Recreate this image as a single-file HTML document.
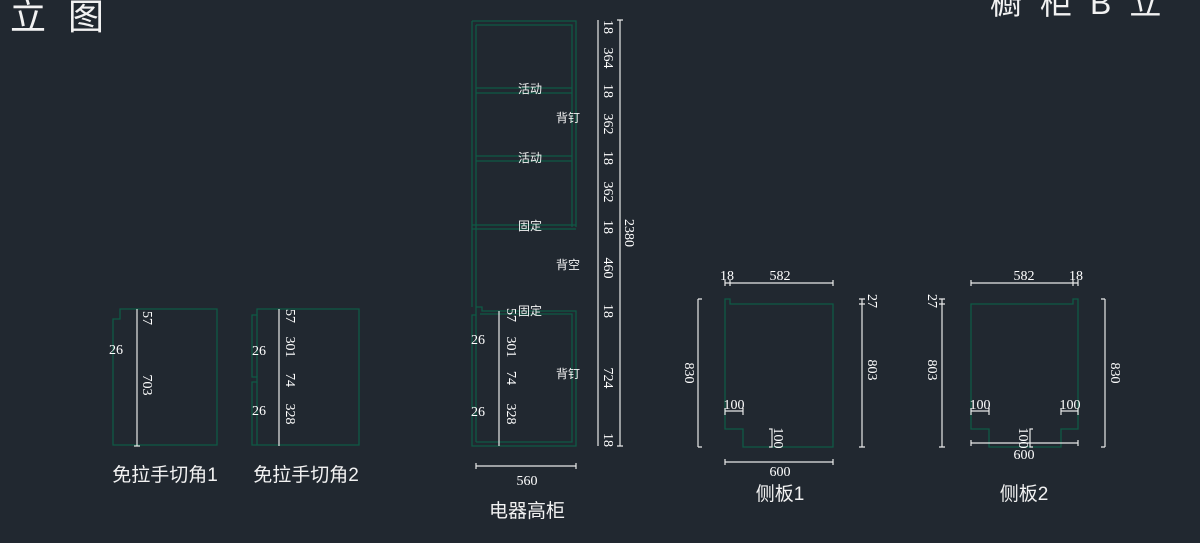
<!DOCTYPE html>
<html><head><meta charset="utf-8"><style>
html,body{margin:0;padding:0;background:#212830;width:1200px;height:543px;overflow:hidden}
svg{display:block}
text{font-family:"Liberation Sans","Noto Sans CJK SC",sans-serif;fill:#f2f2f2}
.d{font-family:"Liberation Serif","Noto Sans CJK SC",serif;font-size:14px;fill:#fff}
.c{font-size:12px}
.g{stroke:#0f5a45;stroke-width:1.3;fill:none}
.w{stroke:#e8e8e8;stroke-width:1.2;fill:none}
</style></head><body>
<svg width="1200" height="543" viewBox="0 0 1200 543" xmlns="http://www.w3.org/2000/svg">
<text x="10" y="29" font-size="36" letter-spacing="22">立图</text>
<text x="990" y="14" font-size="32" letter-spacing="18">橱柜B立</text>

<!-- panel 1 -->
<path class="g" d="M120 309 H217 V445 H113 V319 H120 Z"/>
<line class="w" x1="137" y1="309" x2="137" y2="446"/>
<line class="w" x1="134" y1="446" x2="140" y2="446"/>
<text class="d" transform="translate(143,318) rotate(90)" text-anchor="middle">57</text>
<text class="d" transform="translate(143,385) rotate(90)" text-anchor="middle">703</text>
<text class="d" x="116" y="354" text-anchor="middle">26</text>
<text x="165" y="481" font-size="19" text-anchor="middle">免拉手切角1</text>

<!-- panel 2 -->
<path class="g" d="M262 309 H359 V445 H252 V382 H257 V377 H252 V315 H257 V309 Z"/>
<path class="g" d="M257 315 V377 M257 382 V445"/>
<line class="w" x1="279" y1="309" x2="279" y2="446"/>
<text class="d" transform="translate(286,316) rotate(90)" text-anchor="middle">57</text>
<text class="d" transform="translate(286,347) rotate(90)" text-anchor="middle">301</text>
<text class="d" transform="translate(286,380) rotate(90)" text-anchor="middle">74</text>
<text class="d" transform="translate(286,414) rotate(90)" text-anchor="middle">328</text>
<text class="d" x="259" y="355" text-anchor="middle">26</text>
<text class="d" x="259" y="415" text-anchor="middle">26</text>
<text x="306" y="481" font-size="19" text-anchor="middle">免拉手切角2</text>

<!-- tall cabinet -->
<path class="g" d="M472 21 H576 V227 M476 25 H572 V227 M472 21 V307 M476 25 V307"/>
<path class="g" d="M476 88 H572 M476 93 H572 M476 156 H572 M476 161 H572 M472 225 H576 M472 229 H576"/>
<path class="g" d="M476 307 H482 V311 H576 V446 H472 V415 H476 V407 H472 V315 H476 V307"/>
<path class="g" d="M480 314 H572 V442 H476 M476 315 V406 M476 415 V442"/>
<line class="w" x1="499" y1="311" x2="499" y2="446"/>
<text class="d" transform="translate(507,315) rotate(90)" text-anchor="middle">57</text>
<text class="d" transform="translate(507,347) rotate(90)" text-anchor="middle">301</text>
<text class="d" transform="translate(507,378) rotate(90)" text-anchor="middle">74</text>
<text class="d" transform="translate(507,414) rotate(90)" text-anchor="middle">328</text>
<text class="d" x="478" y="344" text-anchor="middle">26</text>
<text class="d" x="478" y="416" text-anchor="middle">26</text>
<text class="c" x="530" y="93" text-anchor="middle">活动</text>
<text class="c" x="568" y="122" text-anchor="middle">背钉</text>
<text class="c" x="530" y="162" text-anchor="middle">活动</text>
<text class="c" x="530" y="230" text-anchor="middle">固定</text>
<text class="c" x="568" y="269" text-anchor="middle">背空</text>
<text class="c" x="530" y="315" text-anchor="middle">固定</text>
<text class="c" x="568" y="378" text-anchor="middle">背钉</text>
<line class="w" x1="598" y1="20" x2="598" y2="446"/>
<line class="w" x1="620" y1="20" x2="620" y2="446"/>
<path class="w" d="M617 20 H623 M617 446 H623"/>
<g>
<text class="d" transform="translate(604,27) rotate(90)" text-anchor="middle">18</text>
<text class="d" transform="translate(604,58) rotate(90)" text-anchor="middle">364</text>
<text class="d" transform="translate(604,91) rotate(90)" text-anchor="middle">18</text>
<text class="d" transform="translate(604,124) rotate(90)" text-anchor="middle">362</text>
<text class="d" transform="translate(604,158) rotate(90)" text-anchor="middle">18</text>
<text class="d" transform="translate(604,192) rotate(90)" text-anchor="middle">362</text>
<text class="d" transform="translate(604,227) rotate(90)" text-anchor="middle">18</text>
<text class="d" transform="translate(604,268) rotate(90)" text-anchor="middle">460</text>
<text class="d" transform="translate(604,311) rotate(90)" text-anchor="middle">18</text>
<text class="d" transform="translate(604,378) rotate(90)" text-anchor="middle">724</text>
<text class="d" transform="translate(604,440) rotate(90)" text-anchor="middle">18</text>
<text class="d" transform="translate(625,233) rotate(90)" text-anchor="middle" font-size="16">2380</text>
</g>
<line class="w" x1="476" y1="466" x2="576" y2="466"/>
<path class="w" d="M476 463 V469 M576 463 V469"/>
<text class="d" x="527" y="485" text-anchor="middle" font-size="16">560</text>
<text x="527" y="517" font-size="19" text-anchor="middle">电器高柜</text>

<!-- side panel 1 -->
<path class="g" d="M725 299 H730 V304 H833 V447 H743 V429 H725 Z"/>
<line class="w" x1="725" y1="283" x2="833" y2="283"/>
<path class="w" d="M725 280 V286 M730 280 V286 M833 280 V286"/>
<text class="d" x="727" y="280" text-anchor="middle">18</text>
<text class="d" x="780" y="280" text-anchor="middle">582</text>
<line class="w" x1="698" y1="299" x2="698" y2="447"/>
<path class="w" d="M698 299 H702 M698 447 H702"/>
<text class="d" transform="translate(685,373) rotate(90)" text-anchor="middle">830</text>
<line class="w" x1="862" y1="299" x2="862" y2="447"/>
<path class="w" d="M859 299 H865 M859 304 H865 M859 447 H865"/>
<text class="d" transform="translate(868,301) rotate(90)" text-anchor="middle">27</text>
<text class="d" transform="translate(868,370) rotate(90)" text-anchor="middle">803</text>
<text class="d" x="734" y="409" text-anchor="middle">100</text>
<path class="w" d="M725 411 H743 M725 408 V415 M743 408 V415"/>
<path class="w" d="M769 429 H772 V447 H769"/>
<text class="d" transform="translate(774,438) rotate(90)" text-anchor="middle">100</text>
<line class="w" x1="725" y1="462" x2="833" y2="462"/>
<path class="w" d="M725 459 V465 M833 459 V465"/>
<text class="d" x="780" y="476" text-anchor="middle">600</text>
<text x="780" y="500" font-size="19" text-anchor="middle">侧板1</text>

<!-- side panel 2 -->
<path class="g" d="M971 304 H1073 V299 H1078 V429 H1061 V447 H989 V429 H971 Z"/>
<line class="w" x1="971" y1="283" x2="1078" y2="283"/>
<path class="w" d="M971 280 V286 M1073 280 V286 M1078 280 V286"/>
<text class="d" x="1024" y="280" text-anchor="middle">582</text>
<text class="d" x="1076" y="280" text-anchor="middle">18</text>
<line class="w" x1="942" y1="299" x2="942" y2="447"/>
<path class="w" d="M939 299 H945 M939 304 H945 M939 447 H945"/>
<text class="d" transform="translate(928,301) rotate(90)" text-anchor="middle">27</text>
<text class="d" transform="translate(928,370) rotate(90)" text-anchor="middle">803</text>
<line class="w" x1="1105" y1="299" x2="1105" y2="447"/>
<path class="w" d="M1101 299 H1105 M1101 447 H1105"/>
<text class="d" transform="translate(1111,373) rotate(90)" text-anchor="middle">830</text>
<text class="d" x="980" y="409" text-anchor="middle">100</text>
<text class="d" x="1070" y="409" text-anchor="middle">100</text>
<path class="w" d="M971 411 H989 M971 408 V415 M989 408 V415 M1061 411 H1078 M1061 408 V415 M1078 408 V415"/>
<line class="w" x1="971" y1="443" x2="1078" y2="443"/>
<path class="w" d="M971 440 V446 M1078 440 V446 M1033 429 H1030 V447 H1033"/>
<text class="d" transform="translate(1019,438) rotate(90)" text-anchor="middle">100</text>
<text class="d" x="1024" y="459" text-anchor="middle">600</text>
<text x="1024" y="500" font-size="19" text-anchor="middle">侧板2</text>
</svg>
</body></html>
